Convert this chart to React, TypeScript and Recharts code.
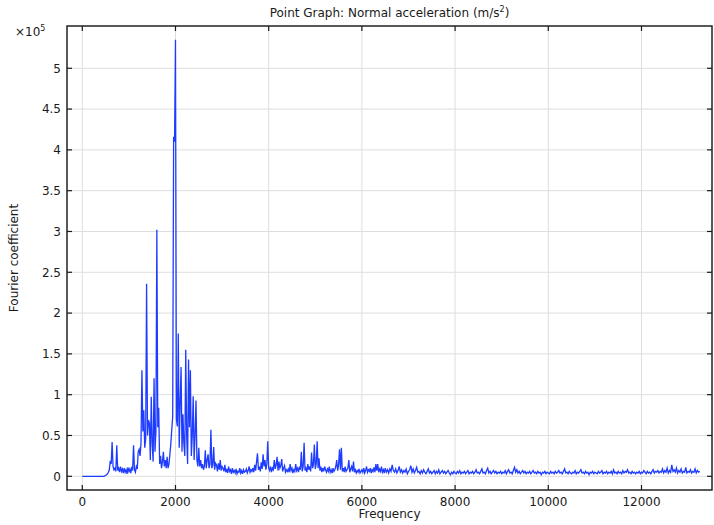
import React from 'react';
import { LineChart, Line, XAxis, YAxis, CartesianGrid } from 'recharts';

// Fourier coefficients in units of 1e5.
// 0 .. 6500 Hz, one value every 20 Hz
const LOW_STEP_HZ = 20;
const lowBandCoef = [
  0, 0, 0, 0, 0, 0, 0, 0, 0, 0,
  0, 0, 0, 0, 0, 0, 0, 0, 0, 0,
  0, 0, 0, 0, 0.005, 0.01, 0.02, 0.03, 0.05, 0.08,
  0.19, 0.15, 0.42, 0.12, 0.08, 0.1, 0.06, 0.38, 0.07, 0.1,
  0.05, 0.12, 0.06, 0.09, 0.04, 0.1, 0.05, 0.08, 0.03, 0.11,
  0.06, 0.09, 0.04, 0.1, 0.07, 0.38, 0.08, 0.05, 0.12, 0.09,
  0.3, 0.33, 0.25, 0.4, 1.3, 0.55, 0.81, 0.35, 0.45, 2.36,
  0.5, 0.69, 0.65, 0.2, 0.975, 0.4, 0.18, 1.2, 0.3, 0.55,
  3.02, 0.6, 0.84, 0.15, 0.25, 0.1, 0.18, 0.3, 0.12, 0.2,
  0.1, 0.24, 0.1, 0.15, 0.27, 0.4, 0.57, 0.73, 4.16, 4.1,
  5.35, 0.7, 0.61, 1.75, 0.35, 0.9, 1.34, 0.3, 0.76, 0.4,
  0.25, 1.55, 0.5, 0.15, 1.43, 0.6, 1.3, 0.25, 0.5, 0.98,
  0.2, 0.5, 0.93, 0.2, 0.12, 0.35, 0.12, 0.2, 0.1, 0.15,
  0.08, 0.12, 0.32, 0.1, 0.2, 0.27, 0.1, 0.15, 0.57, 0.1,
  0.14, 0.36, 0.08, 0.16, 0.14, 0.06, 0.16, 0.08, 0.2, 0.07,
  0.12, 0.1, 0.06, 0.14, 0.05, 0.09, 0.04, 0.12, 0.06, 0.08,
  0.03, 0.1, 0.05, 0.07, 0.04, 0.09, 0.03, 0.06, 0.05, 0.1,
  0.04, 0.07, 0.03, 0.08, 0.05, 0.06, 0.09, 0.04, 0.07, 0.12,
  0.05, 0.08, 0.06, 0.1, 0.05, 0.14, 0.07, 0.18, 0.28, 0.08,
  0.12, 0.06, 0.17, 0.09, 0.27, 0.12, 0.2, 0.08, 0.15, 0.43,
  0.1, 0.07, 0.12, 0.05, 0.1, 0.08, 0.2, 0.09, 0.14, 0.24,
  0.07, 0.18, 0.1, 0.13, 0.21, 0.06, 0.1, 0.13, 0.05, 0.08,
  0.06, 0.09, 0.05, 0.15, 0.07, 0.1, 0.04, 0.08, 0.06, 0.15,
  0.07, 0.1, 0.05, 0.12, 0.08, 0.3, 0.06, 0.12, 0.41, 0.07,
  0.1, 0.05, 0.15, 0.08, 0.12, 0.06, 0.29, 0.1, 0.14, 0.39,
  0.09, 0.15, 0.43, 0.1, 0.22, 0.07, 0.12, 0.05, 0.1, 0.06,
  0.12, 0.08, 0.05, 0.09, 0.06, 0.12, 0.05, 0.08, 0.04, 0.1,
  0.06, 0.08, 0.12, 0.2, 0.07, 0.14, 0.33, 0.08, 0.35, 0.06,
  0.1, 0.05, 0.12, 0.06, 0.08, 0.1, 0.2, 0.05, 0.09, 0.12,
  0.06, 0.18, 0.05, 0.08, 0.04, 0.07, 0.05, 0.09, 0.04, 0.06,
  0.08, 0.05, 0.1, 0.04, 0.07, 0.12, 0.05, 0.08, 0.06, 0.1,
  0.04, 0.08, 0.06, 0.11, 0.05, 0.15, 0.07, 0.15, 0.05, 0.09,
  0.06, 0.12, 0.05, 0.08, 0.04, 0.1,
];

// 6525 .. 13250 Hz, one value every 25 Hz
const HIGH_START_HZ = 6525;
const HIGH_STEP_HZ = 25;
const highBandCoef = [
  0.05, 0.08, 0.04, 0.09, 0.06, 0.14, 0.07, 0.05, 0.09, 0.04,
  0.07, 0.12, 0.05, 0.08, 0.04, 0.07, 0.05, 0.09, 0.03, 0.06,
  0.08, 0.13, 0.05, 0.09, 0.04, 0.07, 0.11, 0.05, 0.06, 0.03,
  0.07, 0.04, 0.08, 0.05, 0.03, 0.06, 0.09, 0.04, 0.06, 0.03,
  0.05, 0.07, 0.03, 0.06, 0.04, 0.08, 0.03, 0.05, 0.07, 0.04,
  0.06, 0.03, 0.05, 0.07, 0.04, 0.02, 0.05, 0.03, 0.06, 0.04,
  0.03, 0.06, 0.04, 0.07, 0.03, 0.05, 0.04, 0.06, 0.03, 0.05,
  0.07, 0.03, 0.05, 0.04, 0.06, 0.03, 0.05, 0.08, 0.04, 0.05,
  0.03, 0.06, 0.09, 0.04, 0.05, 0.03, 0.07, 0.1, 0.04, 0.06,
  0.03, 0.05, 0.07, 0.04, 0.06, 0.03, 0.05, 0.04, 0.06, 0.03,
  0.05, 0.04, 0.07, 0.03, 0.06, 0.08, 0.04, 0.05, 0.03, 0.07,
  0.11, 0.05, 0.08, 0.04, 0.06, 0.03, 0.05, 0.07, 0.04, 0.06,
  0.03, 0.05, 0.04, 0.06, 0.03, 0.05, 0.07, 0.04, 0.05, 0.03,
  0.06, 0.04, 0.05, 0.02, 0.05, 0.04, 0.06, 0.03, 0.05, 0.04,
  0.03, 0.06, 0.04, 0.05, 0.03, 0.06, 0.04, 0.05, 0.07, 0.04,
  0.05, 0.03, 0.06, 0.09, 0.04, 0.05, 0.03, 0.06, 0.04, 0.03,
  0.05, 0.04, 0.07, 0.03, 0.05, 0.04, 0.06, 0.08, 0.04, 0.05,
  0.03, 0.06, 0.04, 0.05, 0.02, 0.05, 0.04, 0.06, 0.03, 0.05,
  0.04, 0.03, 0.06, 0.04, 0.05, 0.07, 0.03, 0.05, 0.04, 0.06,
  0.03, 0.05, 0.04, 0.06, 0.03, 0.08, 0.04, 0.05, 0.03, 0.06,
  0.04, 0.05, 0.03, 0.07, 0.04, 0.06, 0.05, 0.08, 0.04, 0.05,
  0.03, 0.06, 0.04, 0.05, 0.03, 0.05, 0.04, 0.06, 0.03, 0.05,
  0.04, 0.07, 0.05, 0.03, 0.06, 0.04, 0.05, 0.03, 0.06, 0.08,
  0.04, 0.06, 0.05, 0.07, 0.04, 0.06, 0.05, 0.09, 0.04, 0.07,
  0.05, 0.1, 0.04, 0.07, 0.05, 0.14, 0.06, 0.08, 0.05, 0.1,
  0.04, 0.07, 0.05, 0.09, 0.04, 0.06, 0.05, 0.11, 0.04, 0.06,
  0.05, 0.08, 0.04, 0.06, 0.05, 0.09, 0.04, 0.07, 0.05, 0.06,
];

const xTicks = [0, 2000, 4000, 6000, 8000, 10000, 12000];
const yTicks = [0, 0.5, 1, 1.5, 2, 2.5, 3, 3.5, 4, 4.5, 5];

const data = [
  ...lowBandCoef.map((coef, i) => ({ freq: i * LOW_STEP_HZ, coef })),
  ...highBandCoef.map((coef, i) => ({ freq: HIGH_START_HZ + i * HIGH_STEP_HZ, coef })),
];

const W = 714;
const H = 525;
const PLOT = { left: 67, top: 26, right: 712, bottom: 490 };
const FONT = '"DejaVu Sans", Verdana, sans-serif';
const INK = '#1a1a1a';
const TICK_LEN = 5;

const XTick = (props: any) => {
  const { x, payload } = props;
  return (
    <g>
      <line x1={x} x2={x} y1={PLOT.bottom} y2={PLOT.bottom - TICK_LEN} stroke={INK} strokeWidth={1.2} />
      <line x1={x} x2={x} y1={PLOT.top} y2={PLOT.top + TICK_LEN} stroke={INK} strokeWidth={1.2} />
      <text x={x} y={PLOT.bottom + 16} textAnchor="middle" fontFamily={FONT} fontSize={12} fill={INK}>
        {payload.value}
      </text>
    </g>
  );
};

const YTick = (props: any) => {
  const { y, payload } = props;
  return (
    <g>
      <line x1={PLOT.left} x2={PLOT.left + TICK_LEN} y1={y} y2={y} stroke={INK} strokeWidth={1.2} />
      <line x1={PLOT.right} x2={PLOT.right - TICK_LEN} y1={y} y2={y} stroke={INK} strokeWidth={1.2} />
      <text x={PLOT.left - 6} y={y} dy="0.36em" textAnchor="end" fontFamily={FONT} fontSize={12} fill={INK}>
        {String(payload.value)}
      </text>
    </g>
  );
};

export default function App() {
  return (
    <div style={{ position: 'relative', width: W, height: H, background: '#fff' }}>
      <style>{'body{margin:0}'}</style>
      <LineChart
        width={W}
        height={H}
        data={data}
        margin={{ top: PLOT.top, right: W - PLOT.right, bottom: 0, left: 0 }}
      >
        <CartesianGrid stroke="#dedede" strokeWidth={1} />
        <XAxis
          dataKey="freq"
          type="number"
          domain={[-328, 13513]}
          ticks={xTicks}
          interval={0}
          allowDataOverflow
          axisLine={false}
          tickLine={false}
          tickSize={0}
          tickMargin={0}
          height={H - PLOT.bottom}
          tick={<XTick />}
        />
        <YAxis
          type="number"
          domain={[-0.168, 5.518]}
          ticks={yTicks}
          interval={0}
          allowDataOverflow
          axisLine={false}
          tickLine={false}
          tickSize={0}
          tickMargin={0}
          width={PLOT.left}
          tick={<YTick />}
        />
        <Line
          type="linear"
          dataKey="coef"
          stroke="#1e3cff"
          strokeWidth={1.3}
          dot={false}
          activeDot={false}
          isAnimationActive={false}
        />
      </LineChart>
      <svg
        width={W}
        height={H}
        style={{ position: 'absolute', left: 0, top: 0, pointerEvents: 'none' }}
        fontFamily={FONT}
        fontSize={12}
        fill={INK}
      >
        <rect
          x={PLOT.left}
          y={PLOT.top}
          width={PLOT.right - PLOT.left}
          height={PLOT.bottom - PLOT.top}
          fill="none"
          stroke={INK}
          strokeWidth={1.4}
        />
        <text x={(PLOT.left + PLOT.right) / 2} y={17} textAnchor="middle">
          Point Graph: Normal acceleration (m/s
          <tspan fontSize={8} dy={-5}>2</tspan>
          <tspan dy={5}>)</tspan>
        </text>
        <text x={15} y={36}>
          ×10
          <tspan fontSize={8} dy={-5}>5</tspan>
        </text>
        <text x={(PLOT.left + PLOT.right) / 2} y={518} textAnchor="middle">
          Frequency
        </text>
        <text
          x={18}
          y={(PLOT.top + PLOT.bottom) / 2}
          textAnchor="middle"
          transform={`rotate(-90 18 ${(PLOT.top + PLOT.bottom) / 2})`}
        >
          Fourier coefficient
        </text>
      </svg>
    </div>
  );
}
